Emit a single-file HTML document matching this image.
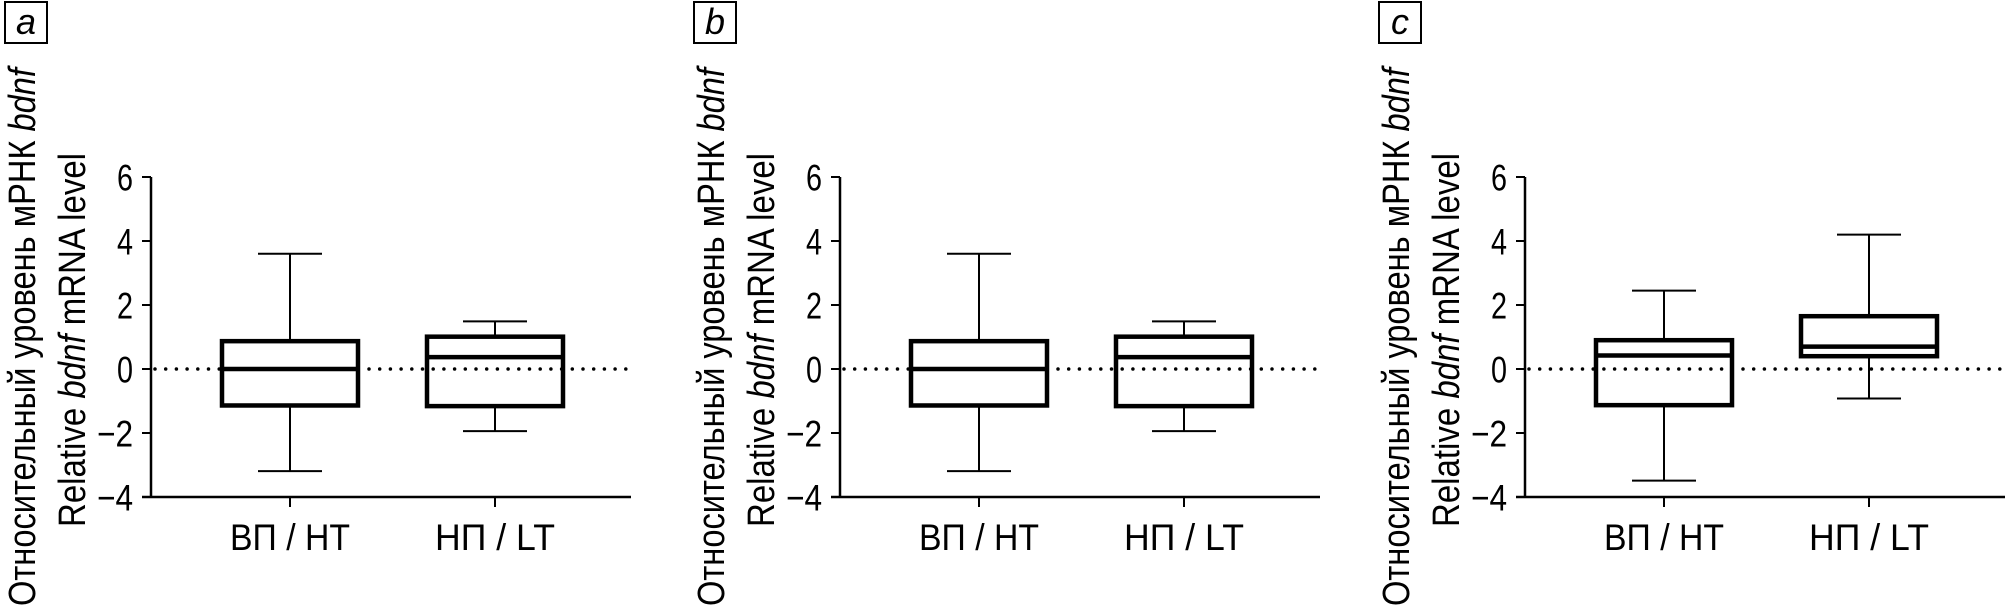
<!DOCTYPE html>
<html><head><meta charset="utf-8"><style>
html,body{margin:0;padding:0;background:#fff;width:2010px;height:611px;overflow:hidden}
svg{display:block}
text{font-family:"Liberation Sans","DejaVu Sans",sans-serif;fill:#000}
</style></head><body>
<svg id="chart" width="2010" height="611" viewBox="0 0 2010 611" xmlns="http://www.w3.org/2000/svg"></svg>
<script>
const panelLabels = ["a", "b", "c"];
const categories = ["ВП / HT", "НП / LT"];
const yTicks = [6, 4, 2, 0, -2, -4];
const yTickLabels = ["6", "4", "2", "0", "−2", "−4"];
// per panel: [whiskerLow, q1, median, q3, whiskerHigh] for each category
const panelA_HT = [-3.19, -1.14, 0.0, 0.87, 3.6];
const panelA_LT = [-1.94, -1.16, 0.37, 1.01, 1.49];
const panelB_HT = [-3.19, -1.14, 0.0, 0.87, 3.6];
const panelB_LT = [-1.94, -1.16, 0.37, 1.01, 1.49];
const panelC_HT = [-3.49, -1.13, 0.42, 0.9, 2.45];
const panelC_LT = [-0.92, 0.4, 0.7, 1.65, 4.2];
const panelData = [[panelA_HT, panelA_LT], [panelB_HT, panelB_LT], [panelC_HT, panelC_LT]];

const NS = "http://www.w3.org/2000/svg";
const svg = document.getElementById("chart");
const axisXs = [151, 840, 1525];
const yTop = 177, yBot = 497, yMin = -4, yMax = 6;
function yScale(v){ return yBot - (v - yMin) / (yMax - yMin) * (yBot - yTop); }
function xScale(ax, i){ return ax + 139 + i * 205; }
function mk(tag, attrs, parent){
  const e = document.createElementNS(NS, tag);
  for (const k in attrs) e.setAttribute(k, attrs[k]);
  (parent || svg).appendChild(e);
  return e;
}

panelData.forEach((series, p) => {
  const ax = axisXs[p];
  const g = mk("g", {});
  
  

  const lb = mk("rect", {x: ax-146, y: 2, width: 42, height: 41, fill: "none", stroke: "#000", "stroke-width": 2}, g);
  
  
  const lt = mk("text", {x: ax-125, y: 34, "text-anchor": "middle", "font-size": 36, "font-style": "italic"}, g);
  lt.textContent = panelLabels[p];
  
  

  // y titles
  const t1 = mk("text", {transform: `translate(${ax-116},606) rotate(-90)`, "font-size": 38, textLength: 538, lengthAdjust: "spacingAndGlyphs"}, g);
  t1.innerHTML = 'Относительный уровень мРНК <tspan font-style="italic">bdnf</tspan>';
  
  
  const t2 = mk("text", {transform: `translate(${ax-66},527) rotate(-90)`, "font-size": 38, textLength: 374, lengthAdjust: "spacingAndGlyphs"}, g);
  t2.innerHTML = 'Relative <tspan font-style="italic">bdnf</tspan> mRNA level';
  
  

  // axes
  const ya = mk("line", {x1: ax, y1: yTop, x2: ax, y2: yBot+1, stroke: "#000", "stroke-width": 2.5}, g);
  
  
  const xa = mk("line", {x1: ax-9, y1: yBot, x2: ax+480, y2: yBot, stroke: "#000", "stroke-width": 2.5}, g);
  
  

  yTicks.forEach((v, i) => {
    const y = yScale(v);
    const tk = mk("line", {x1: ax-9, y1: y, x2: ax, y2: y, stroke: "#000", "stroke-width": 2}, g);
    
    
    const w = yTickLabels[i].length > 1 ? 36 : 16;
    const tx = mk("text", {x: ax-18, y: y+13.5, "text-anchor": "end", "font-size": 37, textLength: w, lengthAdjust: "spacingAndGlyphs"}, g);
    tx.textContent = yTickLabels[i];
    
    
  });

  // zero dotted line
  const zl = mk("line", {x1: ax+4, y1: yScale(0), x2: ax+480, y2: yScale(0), stroke: "#000", "stroke-width": 3.5, "stroke-dasharray": "0 10.7", "stroke-linecap": "round"}, g);
  
  

  series.forEach((d, i) => {
    const cx = xScale(ax, i);
    const ct = mk("line", {x1: cx, y1: yBot, x2: cx, y2: yBot+10, stroke: "#000", "stroke-width": 2}, g);
    
    
    const cl = mk("text", {x: cx, y: 550, "text-anchor": "middle", "font-size": 37, textLength: 120, lengthAdjust: "spacingAndGlyphs"}, g);
    cl.textContent = categories[i];
    
    

    const bg = mk("g", {}, g);
    
    
    const [lo, q1, med, q3, hi] = d;
    const w1 = mk("line", {x1: cx, y1: yScale(hi), x2: cx, y2: yScale(q3), stroke: "#000", "stroke-width": 2}, bg);
    
    
    const w2 = mk("line", {x1: cx, y1: yScale(q1), x2: cx, y2: yScale(lo), stroke: "#000", "stroke-width": 2}, bg);
    
    
    const c1 = mk("line", {x1: cx-32, y1: yScale(hi), x2: cx+32, y2: yScale(hi), stroke: "#000", "stroke-width": 2}, bg);
    
    
    const c2 = mk("line", {x1: cx-32, y1: yScale(lo), x2: cx+32, y2: yScale(lo), stroke: "#000", "stroke-width": 2}, bg);
    
    
    const r = mk("rect", {x: cx-68, y: yScale(q3), width: 136, height: yScale(q1)-yScale(q3), fill: "none", stroke: "#000", "stroke-width": 4.5}, bg);
    
    
    const m = mk("line", {x1: cx-68, y1: yScale(med), x2: cx+68, y2: yScale(med), stroke: "#000", "stroke-width": 4.5}, bg);
    
    
  });
});
</script>
</body></html>
